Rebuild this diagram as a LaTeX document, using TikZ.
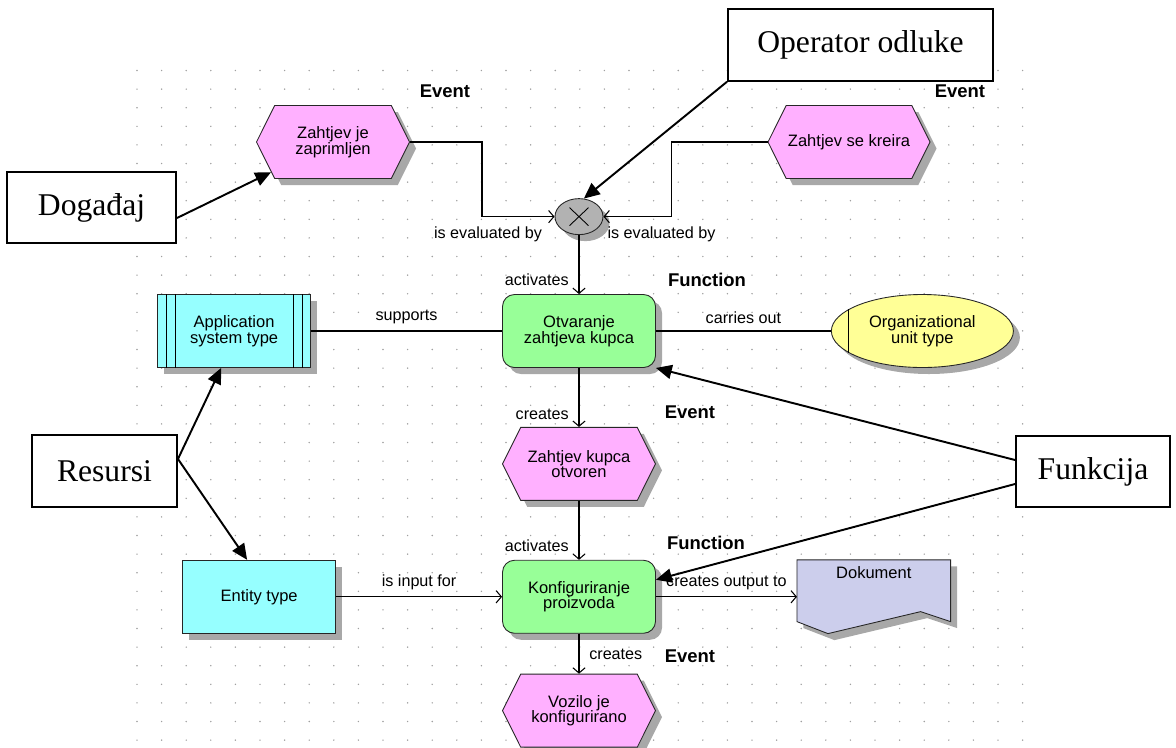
\documentclass[tikz,border=0pt]{standalone}
\usepackage{fontspec}
\setmainfont{Liberation Serif}
\setsansfont{Liberation Sans}
\usetikzlibrary{arrows.meta, positioning, calc, shapes.geometric, shapes.symbols, shadows, backgrounds}

\definecolor{evtc}{RGB}{255,176,255}
\definecolor{func}{RGB}{152,255,152}
\definecolor{sysc}{RGB}{150,255,255}
\definecolor{orgc}{RGB}{255,255,150}
\definecolor{docc}{RGB}{204,206,236}
\definecolor{xorc}{RGB}{178,178,178}
\definecolor{shadc}{RGB}{168,168,168}
\definecolor{dotc}{RGB}{160,160,160}

\begin{document}
\begin{tikzpicture}[
  font=\sffamily\fontsize{9.4}{8.8}\selectfont,
  shad/.style={drop shadow={shadow xshift=0.13cm, shadow yshift=-0.13cm, fill=shadc, opacity=1}},
  event/.style={
    signal, signal to=west and east, signal pointer angle=127,
    draw=black!85, fill=evtc, shad,
    minimum width=3.06cm, minimum height=1.46cm,
    align=center, inner sep=1pt, line width=0.5pt
  },
  funct/.style={
    rectangle, rounded corners=0.24cm,
    draw=black!85, fill=func, shad,
    minimum width=3.06cm, minimum height=1.46cm,
    align=center, line width=0.5pt
  },
  sys/.style={
    rectangle, draw=black!85, fill=sysc, shad,
    minimum width=3.06cm, minimum height=1.46cm,
    align=center, line width=0.5pt
  },
  org/.style={
    ellipse, draw=black!85, fill=orgc, shad,
    minimum width=3.64cm, minimum height=1.46cm,
    align=center, inner sep=0pt, line width=0.5pt
  },
  xorop/.style={
    ellipse, draw=black!85, fill=xorc, shad,
    minimum width=0.96cm, minimum height=0.72cm, line width=0.5pt
  },
  callout/.style={
    draw=black, fill=white, line width=1.1pt,
    minimum height=1.43cm,
    font=\rmfamily\fontsize{18}{20}\selectfont
  },
  flow/.style={-{Straight Barb[length=3pt, width=7pt]}, line width=0.6pt},
  link/.style={line width=0.6pt},
  callarr/.style={-{Triangle[length=9pt, width=8pt]}, line width=1.1pt},
  lbl/.style={font=\sffamily\fontsize{9.2}{10}\selectfont, inner sep=1pt},
  typ/.style={font=\sffamily\bfseries\fontsize{10.5}{12}\selectfont, inner sep=1pt}
]
\useasboundingbox (0,0) rectangle (23.52,-14.94);

% tockasta mreza
\begin{scope}[on background layer]
  \foreach \i in {0,...,36}
    \foreach \j in {0,...,36}
      \fill[dotc] ({2.74+0.492*\i},{-1.41-0.372*\j}) circle (0.016);
\end{scope}

% glavni tok
\node[funct] (otv) at (11.58,-6.62) {Otvaranje\\zahtjeva kupca};
\node[xorop, above=1.18cm of otv] (xor) {};
\node[event, below=1.18cm of otv] (zko) {Zahtjev kupca\\otvoren};
\node[funct, below=1.18cm of zko] (konf) {Konfiguriranje\\proizvoda};
\node[event, below=0.8cm of konf] (voz) {Vozilo je\\konfigurirano};

% dogadaji na vrhu
\node[event] (zjz) at (6.66,-2.84) {Zahtjev je\\zaprimljen};
\node[event] (zsk) at (16.98,-2.84) {Zahtjev se kreira};

% resursi i org. jedinica
\node[sys, left=3.82cm of otv] (app) {Application\\system type};
\node[org, right=3.5cm of otv] (orgu) {Organizational\\unit type};
\node[sys, left=3.32cm of konf] (ent) {Entity type};
\node[minimum width=3.06cm, text height=0.25cm, text depth=0.97cm, inner sep=0.12cm, right=2.82cm of konf] (dok) {Dokument};

% dodatni detalji oblika
\foreach \d in {0.18,0.36} {
  \draw[line width=0.5pt] ([xshift=\d cm]app.north west) -- ([xshift=\d cm]app.south west);
  \draw[line width=0.5pt] ([xshift=-\d cm]app.north east) -- ([xshift=-\d cm]app.south east);
}
\draw[line width=0.6pt] ($(orgu.west)+(0.36,0.44)$) -- ($(orgu.west)+(0.36,-0.44)$);
\draw[line width=0.5pt] ($(xor)+(-0.19,0.18)$) -- ($(xor)+(0.19,-0.18)$);
\draw[line width=0.5pt] ($(xor)+(-0.19,-0.18)$) -- ($(xor)+(0.19,0.18)$);

\begin{scope}[on background layer]
  \fill[shadc] ([shift={(0.13,-0.13)}]dok.north west) -- ([shift={(0.13,-0.13)}]dok.north east)
    -- ([shift={(0.13,0.11)}]dok.south east) -- ([shift={(-0.47,0.31)}]dok.south east)
    -- ([shift={(0.75,-0.13)}]dok.south west) -- ([shift={(0.13,0.11)}]dok.south west) -- cycle;
  \draw[fill=docc, line width=0.5pt, draw=black!85] (dok.north west) -- (dok.north east)
    -- ([yshift=0.24cm]dok.south east) -- ([shift={(-0.6,0.44)}]dok.south east)
    -- ([xshift=0.62cm]dok.south west) -- ([yshift=0.24cm]dok.south west) -- cycle;
\end{scope}

% oznake tipova
\node[typ] (t1) at (8.9,-1.82) {Event};
\node[typ] (t2) at (19.2,-1.82) {Event};
\node[typ] (t3) at (14.14,-5.6) {Function};
\node[typ] (t4) at (13.8,-8.24) {Event};
\node[typ] (t5) at (14.12,-10.86) {Function};
\node[typ] (t6) at (13.8,-13.12) {Event};

% veze
\draw[flow] (zjz.east) -- ++(1.44,0) |- node[lbl, pos=0.5, below=0.15cm, xshift=0.12cm]{is evaluated by} (xor.west);
\draw[flow] (zsk.west) -- ++(-1.92,0) |- node[lbl, pos=0.5, below=0.15cm, xshift=-0.2cm]{is evaluated by} (xor.east);
\draw[flow] (xor.south) -- node[lbl, pos=0.76, left=0.16cm]{activates} (otv.north);
\draw[link] (app.east) -- node[lbl, above=0.1cm]{supports} (otv.west);
\draw[link] (otv.east) -- node[lbl, above=0.1cm]{carries out} (orgu.west);
\draw[flow] (otv.south) -- node[lbl, pos=0.78, left=0.16cm]{creates} (zko.north);
\draw[flow] (zko.south) -- node[lbl, pos=0.76, left=0.16cm]{activates} (konf.north);
\draw[flow] (ent.east) -- node[lbl, above=0.1cm]{is input for} (konf.west);
\draw[flow] (konf.east) -- node[lbl, above=0.1cm]{creates output to} (dok.west);
\draw[flow] (konf.south) -- node[lbl, pos=0.52, right=0.16cm]{creates} (voz.north);

% objasnjenja
\node[callout, minimum width=3.38cm] (dog) at (1.83,-4.15) {Događaj};
\node[callout, minimum width=5.3cm] (op) at (17.21,-0.9) {Operator odluke};
\node[callout, minimum width=2.9cm] (res) at (2.09,-9.42) {Resursi};
\node[callout, minimum width=3.08cm] (fun) at (21.86,-9.43) {Funkcija};

\draw[callarr] ([yshift=-0.21cm]dog.east) -- (zjz.206);
\draw[callarr] (op.south west) -- (xor.75);
\draw[callarr] ([yshift=0.24cm]res.east) -- ([xshift=-0.26cm]app.south);
\draw[callarr] ([yshift=0.24cm]res.east) -- ([xshift=-0.24cm]ent.north);
\draw[callarr] ([yshift=0.23cm]fun.west) -- (otv.south east);
\draw[callarr] ([yshift=-0.25cm]fun.west) -- ([yshift=0.34cm]konf.east);

\end{tikzpicture}
\end{document}
